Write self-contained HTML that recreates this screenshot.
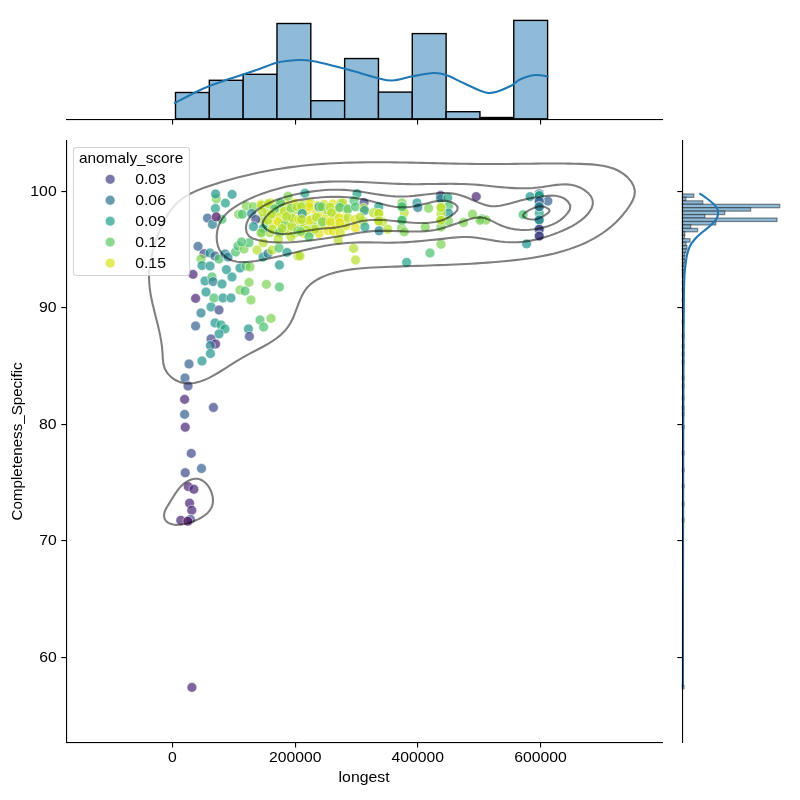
<!DOCTYPE html>
<html><head><meta charset="utf-8"><title>jointplot</title>
<style>html,body{margin:0;padding:0;background:#fff;} svg{display:block;will-change:transform;} text{font-family:"Liberation Sans", sans-serif;fill:#000;}</style>
</head><body>
<svg width="800" height="800" viewBox="0 0 800 800">
<rect x="0" y="0" width="800" height="800" fill="#fff"/>
<rect x="175.50" y="92.50" width="33.83" height="26.32" fill="#8fbbd9" stroke="#000" stroke-width="1.39"/>
<rect x="209.33" y="80.30" width="33.83" height="38.52" fill="#8fbbd9" stroke="#000" stroke-width="1.39"/>
<rect x="243.15" y="74.30" width="33.83" height="44.52" fill="#8fbbd9" stroke="#000" stroke-width="1.39"/>
<rect x="276.98" y="23.50" width="33.83" height="95.32" fill="#8fbbd9" stroke="#000" stroke-width="1.39"/>
<rect x="310.81" y="100.70" width="33.83" height="18.12" fill="#8fbbd9" stroke="#000" stroke-width="1.39"/>
<rect x="344.64" y="58.55" width="33.83" height="60.27" fill="#8fbbd9" stroke="#000" stroke-width="1.39"/>
<rect x="378.46" y="92.10" width="33.83" height="26.72" fill="#8fbbd9" stroke="#000" stroke-width="1.39"/>
<rect x="412.29" y="33.60" width="33.83" height="85.22" fill="#8fbbd9" stroke="#000" stroke-width="1.39"/>
<rect x="446.12" y="111.70" width="33.83" height="7.12" fill="#8fbbd9" stroke="#000" stroke-width="1.39"/>
<rect x="479.95" y="117.50" width="33.83" height="1.32" fill="#8fbbd9" stroke="#000" stroke-width="1.39"/>
<rect x="513.77" y="20.40" width="33.83" height="98.42" fill="#8fbbd9" stroke="#000" stroke-width="1.39"/>
<path d="M175.00,103.00 C178.33,101.25 189.17,95.38 195.00,92.50 C200.83,89.62 204.58,87.92 210.00,85.75 C215.42,83.58 221.88,81.42 227.50,79.50 C233.12,77.58 238.33,76.04 243.75,74.25 C249.17,72.46 254.38,70.71 260.00,68.75 C265.62,66.79 271.25,63.96 277.50,62.50 C283.75,61.04 291.88,60.29 297.50,60.00 C303.12,59.71 305.83,59.92 311.25,60.75 C316.67,61.58 324.38,63.67 330.00,65.00 C335.62,66.33 340.00,67.42 345.00,68.75 C350.00,70.08 354.58,71.46 360.00,73.00 C365.42,74.54 372.08,76.75 377.50,78.00 C382.92,79.25 386.67,80.79 392.50,80.50 C398.33,80.21 405.62,77.50 412.50,76.25 C419.38,75.00 428.12,73.21 433.75,73.00 C439.38,72.79 441.04,73.21 446.25,75.00 C451.46,76.79 457.92,80.75 465.00,83.75 C472.08,86.75 481.25,92.58 488.75,93.00 C496.25,93.42 504.79,88.50 510.00,86.25 C515.21,84.00 515.83,81.38 520.00,79.50 C524.17,77.62 530.42,75.50 535.00,75.00 C539.58,74.50 545.42,76.25 547.50,76.50" fill="none" stroke="#1f77b4" stroke-width="2.08" stroke-linecap="square"/>
<rect x="682.35" y="193.94" width="11.40" height="3.44" fill="#8fbbd9" stroke="#000" stroke-opacity="0.42" stroke-width="1.3"/>
<rect x="682.35" y="197.38" width="3.55" height="3.44" fill="#8fbbd9" stroke="#000" stroke-opacity="0.42" stroke-width="1.3"/>
<rect x="682.35" y="200.83" width="20.45" height="3.44" fill="#8fbbd9" stroke="#000" stroke-opacity="0.42" stroke-width="1.3"/>
<rect x="682.35" y="204.28" width="97.35" height="3.44" fill="#8fbbd9" stroke="#000" stroke-opacity="0.42" stroke-width="1.3"/>
<rect x="682.35" y="207.72" width="68.25" height="3.44" fill="#8fbbd9" stroke="#000" stroke-opacity="0.42" stroke-width="1.3"/>
<rect x="682.35" y="211.16" width="42.35" height="3.44" fill="#8fbbd9" stroke="#000" stroke-opacity="0.42" stroke-width="1.3"/>
<rect x="682.35" y="214.61" width="22.40" height="3.44" fill="#8fbbd9" stroke="#000" stroke-opacity="0.42" stroke-width="1.3"/>
<rect x="682.35" y="218.06" width="94.65" height="3.44" fill="#8fbbd9" stroke="#000" stroke-opacity="0.42" stroke-width="1.3"/>
<rect x="682.35" y="221.50" width="33.40" height="3.44" fill="#8fbbd9" stroke="#000" stroke-opacity="0.42" stroke-width="1.3"/>
<rect x="682.35" y="224.94" width="8.35" height="3.44" fill="#8fbbd9" stroke="#000" stroke-opacity="0.42" stroke-width="1.3"/>
<rect x="682.35" y="228.39" width="15.25" height="3.44" fill="#8fbbd9" stroke="#000" stroke-opacity="0.42" stroke-width="1.3"/>
<rect x="682.35" y="231.83" width="2.35" height="3.44" fill="#8fbbd9" stroke="#000" stroke-opacity="0.42" stroke-width="1.3"/>
<rect x="682.35" y="235.28" width="2.15" height="3.44" fill="#8fbbd9" stroke="#000" stroke-opacity="0.42" stroke-width="1.3"/>
<rect x="682.35" y="238.72" width="7.65" height="3.44" fill="#8fbbd9" stroke="#000" stroke-opacity="0.42" stroke-width="1.3"/>
<rect x="682.35" y="242.17" width="3.65" height="3.44" fill="#8fbbd9" stroke="#000" stroke-opacity="0.42" stroke-width="1.3"/>
<rect x="682.35" y="245.62" width="4.65" height="3.44" fill="#8fbbd9" stroke="#000" stroke-opacity="0.42" stroke-width="1.3"/>
<rect x="682.35" y="249.06" width="3.65" height="3.44" fill="#8fbbd9" stroke="#000" stroke-opacity="0.42" stroke-width="1.3"/>
<rect x="682.35" y="252.50" width="2.65" height="3.44" fill="#8fbbd9" stroke="#000" stroke-opacity="0.42" stroke-width="1.3"/>
<rect x="682.35" y="255.95" width="2.15" height="3.44" fill="#8fbbd9" stroke="#000" stroke-opacity="0.42" stroke-width="1.3"/>
<rect x="682.35" y="259.39" width="2.15" height="3.44" fill="#8fbbd9" stroke="#000" stroke-opacity="0.42" stroke-width="1.3"/>
<rect x="682.35" y="262.84" width="1.65" height="3.44" fill="#8fbbd9" stroke="#000" stroke-opacity="0.42" stroke-width="1.3"/>
<rect x="682.35" y="266.28" width="2.15" height="3.44" fill="#8fbbd9" stroke="#000" stroke-opacity="0.42" stroke-width="1.3"/>
<rect x="682.35" y="269.73" width="1.65" height="3.44" fill="#8fbbd9" stroke="#000" stroke-opacity="0.42" stroke-width="1.3"/>
<rect x="682.35" y="274.30" width="1.65" height="3.44" fill="#8fbbd9" stroke="#000" stroke-opacity="0.42" stroke-width="1.3"/>
<rect x="682.35" y="281.30" width="1.65" height="3.44" fill="#8fbbd9" stroke="#000" stroke-opacity="0.42" stroke-width="1.3"/>
<rect x="682.35" y="288.30" width="1.65" height="3.44" fill="#8fbbd9" stroke="#000" stroke-opacity="0.42" stroke-width="1.3"/>
<rect x="682.35" y="298.30" width="1.65" height="3.44" fill="#8fbbd9" stroke="#000" stroke-opacity="0.42" stroke-width="1.3"/>
<rect x="682.35" y="308.30" width="1.65" height="3.44" fill="#8fbbd9" stroke="#000" stroke-opacity="0.42" stroke-width="1.3"/>
<rect x="682.35" y="320.30" width="1.65" height="3.44" fill="#8fbbd9" stroke="#000" stroke-opacity="0.42" stroke-width="1.3"/>
<rect x="682.35" y="334.30" width="1.65" height="3.44" fill="#8fbbd9" stroke="#000" stroke-opacity="0.42" stroke-width="1.3"/>
<rect x="682.35" y="344.30" width="1.65" height="3.44" fill="#8fbbd9" stroke="#000" stroke-opacity="0.42" stroke-width="1.3"/>
<rect x="682.35" y="352.30" width="1.65" height="3.44" fill="#8fbbd9" stroke="#000" stroke-opacity="0.42" stroke-width="1.3"/>
<rect x="682.35" y="360.30" width="1.65" height="3.44" fill="#8fbbd9" stroke="#000" stroke-opacity="0.42" stroke-width="1.3"/>
<rect x="682.35" y="376.30" width="1.65" height="3.44" fill="#8fbbd9" stroke="#000" stroke-opacity="0.42" stroke-width="1.3"/>
<rect x="682.35" y="384.30" width="1.65" height="3.44" fill="#8fbbd9" stroke="#000" stroke-opacity="0.42" stroke-width="1.3"/>
<rect x="682.35" y="396.30" width="1.65" height="3.44" fill="#8fbbd9" stroke="#000" stroke-opacity="0.42" stroke-width="1.3"/>
<rect x="682.35" y="406.30" width="1.65" height="3.44" fill="#8fbbd9" stroke="#000" stroke-opacity="0.42" stroke-width="1.3"/>
<rect x="682.35" y="412.30" width="1.65" height="3.44" fill="#8fbbd9" stroke="#000" stroke-opacity="0.42" stroke-width="1.3"/>
<rect x="682.35" y="425.30" width="1.65" height="3.44" fill="#8fbbd9" stroke="#000" stroke-opacity="0.42" stroke-width="1.3"/>
<rect x="682.35" y="451.30" width="1.65" height="3.44" fill="#8fbbd9" stroke="#000" stroke-opacity="0.42" stroke-width="1.3"/>
<rect x="682.35" y="468.30" width="1.65" height="3.44" fill="#8fbbd9" stroke="#000" stroke-opacity="0.42" stroke-width="1.3"/>
<rect x="682.35" y="484.30" width="1.65" height="3.44" fill="#8fbbd9" stroke="#000" stroke-opacity="0.42" stroke-width="1.3"/>
<rect x="682.35" y="502.30" width="1.65" height="3.44" fill="#8fbbd9" stroke="#000" stroke-opacity="0.42" stroke-width="1.3"/>
<rect x="682.35" y="518.30" width="1.65" height="3.44" fill="#8fbbd9" stroke="#000" stroke-opacity="0.42" stroke-width="1.3"/>
<rect x="682.35" y="685.30" width="1.65" height="3.44" fill="#8fbbd9" stroke="#000" stroke-opacity="0.42" stroke-width="1.3"/>
<path d="M699.40,193.30 C700.54,194.08 704.07,196.38 706.25,198.00 C708.43,199.62 710.73,201.33 712.50,203.00 C714.27,204.67 715.97,206.33 716.90,208.00 C717.83,209.67 718.10,211.33 718.10,213.00 C718.10,214.67 717.73,216.33 716.90,218.00 C716.07,219.67 714.77,221.23 713.10,223.00 C711.43,224.77 708.98,226.83 706.90,228.60 C704.82,230.37 702.58,231.87 700.60,233.60 C698.62,235.33 696.77,236.93 695.00,239.00 C693.23,241.07 691.33,243.33 690.00,246.00 C688.67,248.67 687.75,251.83 687.00,255.00 C686.25,258.17 685.92,261.67 685.50,265.00 C685.08,268.33 684.75,270.83 684.50,275.00 C684.25,279.17 684.12,285.00 684.00,290.00 C683.88,295.00 683.88,295.00 683.80,305.00 C683.72,315.00 683.58,330.83 683.50,350.00 C683.42,369.17 683.37,391.67 683.30,420.00 C683.23,448.33 683.15,490.00 683.10,520.00 C683.05,550.00 683.03,572.17 683.00,600.00 C682.97,627.83 682.92,672.50 682.90,687.00" fill="none" stroke="#1f77b4" stroke-width="2.08"/>
<circle cx="260.95" cy="204.13" r="4.91" fill="#dfe318" fill-opacity="0.7" stroke="#fff" stroke-opacity="0.7" stroke-width="0.79"/>
<circle cx="267.66" cy="210.92" r="4.91" fill="#b5de2b" fill-opacity="0.7" stroke="#fff" stroke-opacity="0.7" stroke-width="0.79"/>
<circle cx="262.42" cy="219.23" r="4.91" fill="#9bd93c" fill-opacity="0.7" stroke="#fff" stroke-opacity="0.7" stroke-width="0.79"/>
<circle cx="265.04" cy="224.20" r="4.91" fill="#9bd93c" fill-opacity="0.7" stroke="#fff" stroke-opacity="0.7" stroke-width="0.79"/>
<circle cx="262.16" cy="232.15" r="4.91" fill="#9bd93c" fill-opacity="0.7" stroke="#fff" stroke-opacity="0.7" stroke-width="0.79"/>
<circle cx="270.56" cy="202.95" r="4.91" fill="#d2e21b" fill-opacity="0.7" stroke="#fff" stroke-opacity="0.7" stroke-width="0.79"/>
<circle cx="275.47" cy="211.07" r="4.91" fill="#b5de2b" fill-opacity="0.7" stroke="#fff" stroke-opacity="0.7" stroke-width="0.79"/>
<circle cx="270.69" cy="216.69" r="4.91" fill="#b5de2b" fill-opacity="0.7" stroke="#fff" stroke-opacity="0.7" stroke-width="0.79"/>
<circle cx="273.21" cy="223.59" r="4.91" fill="#dfe318" fill-opacity="0.7" stroke="#fff" stroke-opacity="0.7" stroke-width="0.79"/>
<circle cx="269.89" cy="232.66" r="4.91" fill="#9bd93c" fill-opacity="0.7" stroke="#fff" stroke-opacity="0.7" stroke-width="0.79"/>
<circle cx="278.86" cy="205.26" r="4.91" fill="#9bd93c" fill-opacity="0.7" stroke="#fff" stroke-opacity="0.7" stroke-width="0.79"/>
<circle cx="282.91" cy="211.23" r="4.91" fill="#d2e21b" fill-opacity="0.7" stroke="#fff" stroke-opacity="0.7" stroke-width="0.79"/>
<circle cx="279.52" cy="216.79" r="4.91" fill="#d2e21b" fill-opacity="0.7" stroke="#fff" stroke-opacity="0.7" stroke-width="0.79"/>
<circle cx="281.98" cy="224.27" r="4.91" fill="#9bd93c" fill-opacity="0.7" stroke="#fff" stroke-opacity="0.7" stroke-width="0.79"/>
<circle cx="279.12" cy="233.07" r="4.91" fill="#9bd93c" fill-opacity="0.7" stroke="#fff" stroke-opacity="0.7" stroke-width="0.79"/>
<circle cx="286.03" cy="203.66" r="4.91" fill="#dfe318" fill-opacity="0.7" stroke="#fff" stroke-opacity="0.7" stroke-width="0.79"/>
<circle cx="290.14" cy="210.72" r="4.91" fill="#d2e21b" fill-opacity="0.7" stroke="#fff" stroke-opacity="0.7" stroke-width="0.79"/>
<circle cx="287.62" cy="218.55" r="4.91" fill="#b5de2b" fill-opacity="0.7" stroke="#fff" stroke-opacity="0.7" stroke-width="0.79"/>
<circle cx="291.43" cy="226.47" r="4.91" fill="#d2e21b" fill-opacity="0.7" stroke="#fff" stroke-opacity="0.7" stroke-width="0.79"/>
<circle cx="286.79" cy="231.48" r="4.91" fill="#b5de2b" fill-opacity="0.7" stroke="#fff" stroke-opacity="0.7" stroke-width="0.79"/>
<circle cx="294.86" cy="203.13" r="4.91" fill="#dfe318" fill-opacity="0.7" stroke="#fff" stroke-opacity="0.7" stroke-width="0.79"/>
<circle cx="297.14" cy="209.69" r="4.91" fill="#9bd93c" fill-opacity="0.7" stroke="#fff" stroke-opacity="0.7" stroke-width="0.79"/>
<circle cx="292.35" cy="218.90" r="4.91" fill="#9bd93c" fill-opacity="0.7" stroke="#fff" stroke-opacity="0.7" stroke-width="0.79"/>
<circle cx="299.59" cy="223.56" r="4.91" fill="#9bd93c" fill-opacity="0.7" stroke="#fff" stroke-opacity="0.7" stroke-width="0.79"/>
<circle cx="295.08" cy="233.12" r="4.91" fill="#b5de2b" fill-opacity="0.7" stroke="#fff" stroke-opacity="0.7" stroke-width="0.79"/>
<circle cx="302.42" cy="204.78" r="4.91" fill="#9bd93c" fill-opacity="0.7" stroke="#fff" stroke-opacity="0.7" stroke-width="0.79"/>
<circle cx="306.87" cy="210.49" r="4.91" fill="#dfe318" fill-opacity="0.7" stroke="#fff" stroke-opacity="0.7" stroke-width="0.79"/>
<circle cx="302.02" cy="219.50" r="4.91" fill="#dfe318" fill-opacity="0.7" stroke="#fff" stroke-opacity="0.7" stroke-width="0.79"/>
<circle cx="304.03" cy="223.82" r="4.91" fill="#b5de2b" fill-opacity="0.7" stroke="#fff" stroke-opacity="0.7" stroke-width="0.79"/>
<circle cx="303.80" cy="233.41" r="4.91" fill="#dfe318" fill-opacity="0.7" stroke="#fff" stroke-opacity="0.7" stroke-width="0.79"/>
<circle cx="310.44" cy="202.97" r="4.91" fill="#b5de2b" fill-opacity="0.7" stroke="#fff" stroke-opacity="0.7" stroke-width="0.79"/>
<circle cx="315.92" cy="210.52" r="4.91" fill="#dfe318" fill-opacity="0.7" stroke="#fff" stroke-opacity="0.7" stroke-width="0.79"/>
<circle cx="311.83" cy="219.19" r="4.91" fill="#9bd93c" fill-opacity="0.7" stroke="#fff" stroke-opacity="0.7" stroke-width="0.79"/>
<circle cx="313.51" cy="226.11" r="4.91" fill="#9bd93c" fill-opacity="0.7" stroke="#fff" stroke-opacity="0.7" stroke-width="0.79"/>
<circle cx="310.58" cy="232.29" r="4.91" fill="#b5de2b" fill-opacity="0.7" stroke="#fff" stroke-opacity="0.7" stroke-width="0.79"/>
<circle cx="318.48" cy="205.32" r="4.91" fill="#dfe318" fill-opacity="0.7" stroke="#fff" stroke-opacity="0.7" stroke-width="0.79"/>
<circle cx="321.72" cy="211.66" r="4.91" fill="#d2e21b" fill-opacity="0.7" stroke="#fff" stroke-opacity="0.7" stroke-width="0.79"/>
<circle cx="319.75" cy="217.81" r="4.91" fill="#dfe318" fill-opacity="0.7" stroke="#fff" stroke-opacity="0.7" stroke-width="0.79"/>
<circle cx="322.08" cy="225.15" r="4.91" fill="#b5de2b" fill-opacity="0.7" stroke="#fff" stroke-opacity="0.7" stroke-width="0.79"/>
<circle cx="319.15" cy="233.46" r="4.91" fill="#dfe318" fill-opacity="0.7" stroke="#fff" stroke-opacity="0.7" stroke-width="0.79"/>
<circle cx="324.08" cy="204.35" r="4.91" fill="#d2e21b" fill-opacity="0.7" stroke="#fff" stroke-opacity="0.7" stroke-width="0.79"/>
<circle cx="328.24" cy="211.38" r="4.91" fill="#9bd93c" fill-opacity="0.7" stroke="#fff" stroke-opacity="0.7" stroke-width="0.79"/>
<circle cx="325.41" cy="219.25" r="4.91" fill="#dfe318" fill-opacity="0.7" stroke="#fff" stroke-opacity="0.7" stroke-width="0.79"/>
<circle cx="330.95" cy="223.57" r="4.91" fill="#b5de2b" fill-opacity="0.7" stroke="#fff" stroke-opacity="0.7" stroke-width="0.79"/>
<circle cx="327.82" cy="230.56" r="4.91" fill="#dfe318" fill-opacity="0.7" stroke="#fff" stroke-opacity="0.7" stroke-width="0.79"/>
<circle cx="333.00" cy="203.87" r="4.91" fill="#dfe318" fill-opacity="0.7" stroke="#fff" stroke-opacity="0.7" stroke-width="0.79"/>
<circle cx="336.71" cy="210.06" r="4.91" fill="#dfe318" fill-opacity="0.7" stroke="#fff" stroke-opacity="0.7" stroke-width="0.79"/>
<circle cx="335.38" cy="217.29" r="4.91" fill="#9bd93c" fill-opacity="0.7" stroke="#fff" stroke-opacity="0.7" stroke-width="0.79"/>
<circle cx="336.42" cy="225.94" r="4.91" fill="#d2e21b" fill-opacity="0.7" stroke="#fff" stroke-opacity="0.7" stroke-width="0.79"/>
<circle cx="333.24" cy="231.17" r="4.91" fill="#dfe318" fill-opacity="0.7" stroke="#fff" stroke-opacity="0.7" stroke-width="0.79"/>
<circle cx="340.95" cy="203.06" r="4.91" fill="#9bd93c" fill-opacity="0.7" stroke="#fff" stroke-opacity="0.7" stroke-width="0.79"/>
<circle cx="346.60" cy="209.79" r="4.91" fill="#dfe318" fill-opacity="0.7" stroke="#fff" stroke-opacity="0.7" stroke-width="0.79"/>
<circle cx="343.80" cy="218.52" r="4.91" fill="#d2e21b" fill-opacity="0.7" stroke="#fff" stroke-opacity="0.7" stroke-width="0.79"/>
<circle cx="345.75" cy="226.07" r="4.91" fill="#d2e21b" fill-opacity="0.7" stroke="#fff" stroke-opacity="0.7" stroke-width="0.79"/>
<circle cx="340.32" cy="232.73" r="4.91" fill="#d2e21b" fill-opacity="0.7" stroke="#fff" stroke-opacity="0.7" stroke-width="0.79"/>
<circle cx="216.25" cy="198.75" r="4.91" fill="#7ad151" fill-opacity="0.7" stroke="#fff" stroke-opacity="0.7" stroke-width="0.79"/>
<circle cx="215.60" cy="194.00" r="4.91" fill="#1f958b" fill-opacity="0.7" stroke="#fff" stroke-opacity="0.7" stroke-width="0.79"/>
<circle cx="232.10" cy="194.40" r="4.91" fill="#1f958b" fill-opacity="0.7" stroke="#fff" stroke-opacity="0.7" stroke-width="0.79"/>
<circle cx="225.40" cy="203.10" r="4.91" fill="#20a386" fill-opacity="0.7" stroke="#fff" stroke-opacity="0.7" stroke-width="0.79"/>
<circle cx="215.40" cy="208.50" r="4.91" fill="#20a386" fill-opacity="0.7" stroke="#fff" stroke-opacity="0.7" stroke-width="0.79"/>
<circle cx="207.50" cy="218.10" r="4.91" fill="#355f8d" fill-opacity="0.7" stroke="#fff" stroke-opacity="0.7" stroke-width="0.79"/>
<circle cx="221.90" cy="219.40" r="4.91" fill="#48c16e" fill-opacity="0.7" stroke="#fff" stroke-opacity="0.7" stroke-width="0.79"/>
<circle cx="212.50" cy="224.40" r="4.91" fill="#287d8e" fill-opacity="0.7" stroke="#fff" stroke-opacity="0.7" stroke-width="0.79"/>
<circle cx="216.25" cy="216.90" r="4.91" fill="#46085c" fill-opacity="0.7" stroke="#fff" stroke-opacity="0.7" stroke-width="0.79"/>
<circle cx="238.75" cy="214.40" r="4.91" fill="#7ad151" fill-opacity="0.7" stroke="#fff" stroke-opacity="0.7" stroke-width="0.79"/>
<circle cx="198.00" cy="246.40" r="4.91" fill="#355f8d" fill-opacity="0.7" stroke="#fff" stroke-opacity="0.7" stroke-width="0.79"/>
<circle cx="204.00" cy="253.60" r="4.91" fill="#3e4989" fill-opacity="0.7" stroke="#fff" stroke-opacity="0.7" stroke-width="0.79"/>
<circle cx="210.00" cy="253.00" r="4.91" fill="#1f958b" fill-opacity="0.7" stroke="#fff" stroke-opacity="0.7" stroke-width="0.79"/>
<circle cx="215.00" cy="256.00" r="4.91" fill="#355f8d" fill-opacity="0.7" stroke="#fff" stroke-opacity="0.7" stroke-width="0.79"/>
<circle cx="219.00" cy="259.00" r="4.91" fill="#48c16e" fill-opacity="0.7" stroke="#fff" stroke-opacity="0.7" stroke-width="0.79"/>
<circle cx="225.00" cy="254.00" r="4.91" fill="#25848e" fill-opacity="0.7" stroke="#fff" stroke-opacity="0.7" stroke-width="0.79"/>
<circle cx="228.00" cy="257.00" r="4.91" fill="#287d8e" fill-opacity="0.7" stroke="#fff" stroke-opacity="0.7" stroke-width="0.79"/>
<circle cx="201.00" cy="259.00" r="4.91" fill="#7ad151" fill-opacity="0.7" stroke="#fff" stroke-opacity="0.7" stroke-width="0.79"/>
<circle cx="202.00" cy="265.60" r="4.91" fill="#1f958b" fill-opacity="0.7" stroke="#fff" stroke-opacity="0.7" stroke-width="0.79"/>
<circle cx="210.00" cy="266.00" r="4.91" fill="#1f958b" fill-opacity="0.7" stroke="#fff" stroke-opacity="0.7" stroke-width="0.79"/>
<circle cx="193.00" cy="274.40" r="4.91" fill="#482475" fill-opacity="0.7" stroke="#fff" stroke-opacity="0.7" stroke-width="0.79"/>
<circle cx="205.00" cy="281.00" r="4.91" fill="#1f958b" fill-opacity="0.7" stroke="#fff" stroke-opacity="0.7" stroke-width="0.79"/>
<circle cx="212.00" cy="277.00" r="4.91" fill="#48c16e" fill-opacity="0.7" stroke="#fff" stroke-opacity="0.7" stroke-width="0.79"/>
<circle cx="213.00" cy="281.60" r="4.91" fill="#287d8e" fill-opacity="0.7" stroke="#fff" stroke-opacity="0.7" stroke-width="0.79"/>
<circle cx="222.00" cy="284.00" r="4.91" fill="#1f958b" fill-opacity="0.7" stroke="#fff" stroke-opacity="0.7" stroke-width="0.79"/>
<circle cx="226.40" cy="269.60" r="4.91" fill="#1f958b" fill-opacity="0.7" stroke="#fff" stroke-opacity="0.7" stroke-width="0.79"/>
<circle cx="232.00" cy="277.00" r="4.91" fill="#1f958b" fill-opacity="0.7" stroke="#fff" stroke-opacity="0.7" stroke-width="0.79"/>
<circle cx="235.60" cy="252.00" r="4.91" fill="#48c16e" fill-opacity="0.7" stroke="#fff" stroke-opacity="0.7" stroke-width="0.79"/>
<circle cx="238.00" cy="246.00" r="4.91" fill="#48c16e" fill-opacity="0.7" stroke="#fff" stroke-opacity="0.7" stroke-width="0.79"/>
<circle cx="244.00" cy="249.00" r="4.91" fill="#7ad151" fill-opacity="0.7" stroke="#fff" stroke-opacity="0.7" stroke-width="0.79"/>
<circle cx="240.00" cy="268.00" r="4.91" fill="#1f958b" fill-opacity="0.7" stroke="#fff" stroke-opacity="0.7" stroke-width="0.79"/>
<circle cx="246.00" cy="266.00" r="4.91" fill="#48c16e" fill-opacity="0.7" stroke="#fff" stroke-opacity="0.7" stroke-width="0.79"/>
<circle cx="250.00" cy="267.00" r="4.91" fill="#7ad151" fill-opacity="0.7" stroke="#fff" stroke-opacity="0.7" stroke-width="0.79"/>
<circle cx="249.00" cy="282.40" r="4.91" fill="#7ad151" fill-opacity="0.7" stroke="#fff" stroke-opacity="0.7" stroke-width="0.79"/>
<circle cx="240.00" cy="290.00" r="4.91" fill="#7ad151" fill-opacity="0.7" stroke="#fff" stroke-opacity="0.7" stroke-width="0.79"/>
<circle cx="245.00" cy="291.00" r="4.91" fill="#48c16e" fill-opacity="0.7" stroke="#fff" stroke-opacity="0.7" stroke-width="0.79"/>
<circle cx="251.00" cy="300.00" r="4.91" fill="#7ad151" fill-opacity="0.7" stroke="#fff" stroke-opacity="0.7" stroke-width="0.79"/>
<circle cx="266.40" cy="284.40" r="4.91" fill="#7ad151" fill-opacity="0.7" stroke="#fff" stroke-opacity="0.7" stroke-width="0.79"/>
<circle cx="279.40" cy="287.00" r="4.91" fill="#48c16e" fill-opacity="0.7" stroke="#fff" stroke-opacity="0.7" stroke-width="0.79"/>
<circle cx="279.40" cy="265.00" r="4.91" fill="#1f958b" fill-opacity="0.7" stroke="#fff" stroke-opacity="0.7" stroke-width="0.79"/>
<circle cx="257.00" cy="250.00" r="4.91" fill="#b5de2b" fill-opacity="0.7" stroke="#fff" stroke-opacity="0.7" stroke-width="0.79"/>
<circle cx="263.00" cy="257.00" r="4.91" fill="#1f958b" fill-opacity="0.7" stroke="#fff" stroke-opacity="0.7" stroke-width="0.79"/>
<circle cx="268.00" cy="253.60" r="4.91" fill="#287d8e" fill-opacity="0.7" stroke="#fff" stroke-opacity="0.7" stroke-width="0.79"/>
<circle cx="272.00" cy="250.00" r="4.91" fill="#b5de2b" fill-opacity="0.7" stroke="#fff" stroke-opacity="0.7" stroke-width="0.79"/>
<circle cx="279.00" cy="248.00" r="4.91" fill="#48c16e" fill-opacity="0.7" stroke="#fff" stroke-opacity="0.7" stroke-width="0.79"/>
<circle cx="287.00" cy="252.40" r="4.91" fill="#1f958b" fill-opacity="0.7" stroke="#fff" stroke-opacity="0.7" stroke-width="0.79"/>
<circle cx="298.00" cy="256.00" r="4.91" fill="#b5de2b" fill-opacity="0.7" stroke="#fff" stroke-opacity="0.7" stroke-width="0.79"/>
<circle cx="206.00" cy="292.00" r="4.91" fill="#1f958b" fill-opacity="0.7" stroke="#fff" stroke-opacity="0.7" stroke-width="0.79"/>
<circle cx="214.00" cy="298.00" r="4.91" fill="#48c16e" fill-opacity="0.7" stroke="#fff" stroke-opacity="0.7" stroke-width="0.79"/>
<circle cx="223.00" cy="298.00" r="4.91" fill="#1f958b" fill-opacity="0.7" stroke="#fff" stroke-opacity="0.7" stroke-width="0.79"/>
<circle cx="231.00" cy="298.00" r="4.91" fill="#1f958b" fill-opacity="0.7" stroke="#fff" stroke-opacity="0.7" stroke-width="0.79"/>
<circle cx="195.60" cy="298.40" r="4.91" fill="#482475" fill-opacity="0.7" stroke="#fff" stroke-opacity="0.7" stroke-width="0.79"/>
<circle cx="211.00" cy="307.00" r="4.91" fill="#1f958b" fill-opacity="0.7" stroke="#fff" stroke-opacity="0.7" stroke-width="0.79"/>
<circle cx="219.00" cy="310.00" r="4.91" fill="#3e4989" fill-opacity="0.7" stroke="#fff" stroke-opacity="0.7" stroke-width="0.79"/>
<circle cx="201.00" cy="313.00" r="4.91" fill="#287d8e" fill-opacity="0.7" stroke="#fff" stroke-opacity="0.7" stroke-width="0.79"/>
<circle cx="195.60" cy="326.00" r="4.91" fill="#355f8d" fill-opacity="0.7" stroke="#fff" stroke-opacity="0.7" stroke-width="0.79"/>
<circle cx="215.00" cy="323.00" r="4.91" fill="#1f958b" fill-opacity="0.7" stroke="#fff" stroke-opacity="0.7" stroke-width="0.79"/>
<circle cx="221.00" cy="325.00" r="4.91" fill="#20a386" fill-opacity="0.7" stroke="#fff" stroke-opacity="0.7" stroke-width="0.79"/>
<circle cx="225.00" cy="329.00" r="4.91" fill="#20a386" fill-opacity="0.7" stroke="#fff" stroke-opacity="0.7" stroke-width="0.79"/>
<circle cx="219.00" cy="334.00" r="4.91" fill="#1f958b" fill-opacity="0.7" stroke="#fff" stroke-opacity="0.7" stroke-width="0.79"/>
<circle cx="211.00" cy="339.00" r="4.91" fill="#3e4989" fill-opacity="0.7" stroke="#fff" stroke-opacity="0.7" stroke-width="0.79"/>
<circle cx="215.60" cy="344.00" r="4.91" fill="#482475" fill-opacity="0.7" stroke="#fff" stroke-opacity="0.7" stroke-width="0.79"/>
<circle cx="210.40" cy="345.60" r="4.91" fill="#287d8e" fill-opacity="0.7" stroke="#fff" stroke-opacity="0.7" stroke-width="0.79"/>
<circle cx="210.40" cy="353.60" r="4.91" fill="#1f958b" fill-opacity="0.7" stroke="#fff" stroke-opacity="0.7" stroke-width="0.79"/>
<circle cx="202.00" cy="361.00" r="4.91" fill="#1f958b" fill-opacity="0.7" stroke="#fff" stroke-opacity="0.7" stroke-width="0.79"/>
<circle cx="189.00" cy="364.00" r="4.91" fill="#355f8d" fill-opacity="0.7" stroke="#fff" stroke-opacity="0.7" stroke-width="0.79"/>
<circle cx="185.00" cy="378.00" r="4.91" fill="#355f8d" fill-opacity="0.7" stroke="#fff" stroke-opacity="0.7" stroke-width="0.79"/>
<circle cx="188.00" cy="386.00" r="4.91" fill="#3e4989" fill-opacity="0.7" stroke="#fff" stroke-opacity="0.7" stroke-width="0.79"/>
<circle cx="184.60" cy="399.40" r="4.91" fill="#482475" fill-opacity="0.7" stroke="#fff" stroke-opacity="0.7" stroke-width="0.79"/>
<circle cx="260.00" cy="320.00" r="4.91" fill="#48c16e" fill-opacity="0.7" stroke="#fff" stroke-opacity="0.7" stroke-width="0.79"/>
<circle cx="271.00" cy="318.40" r="4.91" fill="#7ad151" fill-opacity="0.7" stroke="#fff" stroke-opacity="0.7" stroke-width="0.79"/>
<circle cx="263.60" cy="327.00" r="4.91" fill="#48c16e" fill-opacity="0.7" stroke="#fff" stroke-opacity="0.7" stroke-width="0.79"/>
<circle cx="248.40" cy="329.00" r="4.91" fill="#1f958b" fill-opacity="0.7" stroke="#fff" stroke-opacity="0.7" stroke-width="0.79"/>
<circle cx="249.40" cy="336.40" r="4.91" fill="#3e4989" fill-opacity="0.7" stroke="#fff" stroke-opacity="0.7" stroke-width="0.79"/>
<circle cx="213.40" cy="407.50" r="4.91" fill="#3e4989" fill-opacity="0.7" stroke="#fff" stroke-opacity="0.7" stroke-width="0.79"/>
<circle cx="184.60" cy="414.40" r="4.91" fill="#355f8d" fill-opacity="0.7" stroke="#fff" stroke-opacity="0.7" stroke-width="0.79"/>
<circle cx="185.25" cy="427.25" r="4.91" fill="#482475" fill-opacity="0.7" stroke="#fff" stroke-opacity="0.7" stroke-width="0.79"/>
<circle cx="191.25" cy="453.40" r="4.91" fill="#3e4989" fill-opacity="0.7" stroke="#fff" stroke-opacity="0.7" stroke-width="0.79"/>
<circle cx="201.50" cy="468.50" r="4.91" fill="#355f8d" fill-opacity="0.7" stroke="#fff" stroke-opacity="0.7" stroke-width="0.79"/>
<circle cx="185.25" cy="472.75" r="4.91" fill="#3e4989" fill-opacity="0.7" stroke="#fff" stroke-opacity="0.7" stroke-width="0.79"/>
<circle cx="188.25" cy="486.60" r="4.91" fill="#482475" fill-opacity="0.7" stroke="#fff" stroke-opacity="0.7" stroke-width="0.79"/>
<circle cx="193.90" cy="489.25" r="4.91" fill="#482475" fill-opacity="0.7" stroke="#fff" stroke-opacity="0.7" stroke-width="0.79"/>
<circle cx="189.60" cy="503.25" r="4.91" fill="#482475" fill-opacity="0.7" stroke="#fff" stroke-opacity="0.7" stroke-width="0.79"/>
<circle cx="191.75" cy="510.25" r="4.91" fill="#482475" fill-opacity="0.7" stroke="#fff" stroke-opacity="0.7" stroke-width="0.79"/>
<circle cx="190.40" cy="519.40" r="4.91" fill="#3e4989" fill-opacity="0.7" stroke="#fff" stroke-opacity="0.7" stroke-width="0.79"/>
<circle cx="180.80" cy="520.30" r="4.91" fill="#482475" fill-opacity="0.7" stroke="#fff" stroke-opacity="0.7" stroke-width="0.79"/>
<circle cx="187.80" cy="521.20" r="4.91" fill="#46085c" fill-opacity="0.7" stroke="#fff" stroke-opacity="0.7" stroke-width="0.79"/>
<circle cx="191.90" cy="687.40" r="4.91" fill="#482475" fill-opacity="0.7" stroke="#fff" stroke-opacity="0.7" stroke-width="0.79"/>
<circle cx="353.60" cy="248.40" r="4.91" fill="#b5de2b" fill-opacity="0.7" stroke="#fff" stroke-opacity="0.7" stroke-width="0.79"/>
<circle cx="355.60" cy="260.00" r="4.91" fill="#b5de2b" fill-opacity="0.7" stroke="#fff" stroke-opacity="0.7" stroke-width="0.79"/>
<circle cx="300.00" cy="256.00" r="4.91" fill="#b5de2b" fill-opacity="0.7" stroke="#fff" stroke-opacity="0.7" stroke-width="0.79"/>
<circle cx="406.60" cy="262.40" r="4.91" fill="#20a386" fill-opacity="0.7" stroke="#fff" stroke-opacity="0.7" stroke-width="0.79"/>
<circle cx="430.00" cy="253.00" r="4.91" fill="#48c16e" fill-opacity="0.7" stroke="#fff" stroke-opacity="0.7" stroke-width="0.79"/>
<circle cx="482.00" cy="219.00" r="4.91" fill="#48c16e" fill-opacity="0.7" stroke="#fff" stroke-opacity="0.7" stroke-width="0.79"/>
<circle cx="486.00" cy="220.00" r="4.91" fill="#7ad151" fill-opacity="0.7" stroke="#fff" stroke-opacity="0.7" stroke-width="0.79"/>
<circle cx="530.10" cy="196.60" r="4.91" fill="#1f958b" fill-opacity="0.7" stroke="#fff" stroke-opacity="0.7" stroke-width="0.79"/>
<circle cx="523.10" cy="214.60" r="4.91" fill="#48c16e" fill-opacity="0.7" stroke="#fff" stroke-opacity="0.7" stroke-width="0.79"/>
<circle cx="526.60" cy="243.90" r="4.91" fill="#1f958b" fill-opacity="0.7" stroke="#fff" stroke-opacity="0.7" stroke-width="0.79"/>
<circle cx="288.00" cy="196.25" r="4.91" fill="#7ad151" fill-opacity="0.7" stroke="#fff" stroke-opacity="0.7" stroke-width="0.79"/>
<circle cx="246.40" cy="206.00" r="4.91" fill="#7ad151" fill-opacity="0.7" stroke="#fff" stroke-opacity="0.7" stroke-width="0.79"/>
<circle cx="253.10" cy="206.75" r="4.91" fill="#7ad151" fill-opacity="0.7" stroke="#fff" stroke-opacity="0.7" stroke-width="0.79"/>
<circle cx="261.40" cy="205.25" r="4.91" fill="#b5de2b" fill-opacity="0.7" stroke="#fff" stroke-opacity="0.7" stroke-width="0.79"/>
<circle cx="268.50" cy="203.75" r="4.91" fill="#b5de2b" fill-opacity="0.7" stroke="#fff" stroke-opacity="0.7" stroke-width="0.79"/>
<circle cx="280.50" cy="203.00" r="4.91" fill="#48c16e" fill-opacity="0.7" stroke="#fff" stroke-opacity="0.7" stroke-width="0.79"/>
<circle cx="274.50" cy="209.00" r="4.91" fill="#48c16e" fill-opacity="0.7" stroke="#fff" stroke-opacity="0.7" stroke-width="0.79"/>
<circle cx="262.50" cy="212.00" r="4.91" fill="#b5de2b" fill-opacity="0.7" stroke="#fff" stroke-opacity="0.7" stroke-width="0.79"/>
<circle cx="242.25" cy="214.25" r="4.91" fill="#48c16e" fill-opacity="0.7" stroke="#fff" stroke-opacity="0.7" stroke-width="0.79"/>
<circle cx="251.60" cy="213.50" r="4.91" fill="#25848e" fill-opacity="0.7" stroke="#fff" stroke-opacity="0.7" stroke-width="0.79"/>
<circle cx="255.75" cy="219.50" r="4.91" fill="#3e4989" fill-opacity="0.7" stroke="#fff" stroke-opacity="0.7" stroke-width="0.79"/>
<circle cx="253.50" cy="226.60" r="4.91" fill="#1f958b" fill-opacity="0.7" stroke="#fff" stroke-opacity="0.7" stroke-width="0.79"/>
<circle cx="263.25" cy="228.50" r="4.91" fill="#20a386" fill-opacity="0.7" stroke="#fff" stroke-opacity="0.7" stroke-width="0.79"/>
<circle cx="267.75" cy="220.25" r="4.91" fill="#b5de2b" fill-opacity="0.7" stroke="#fff" stroke-opacity="0.7" stroke-width="0.79"/>
<circle cx="278.25" cy="221.75" r="4.91" fill="#dfe318" fill-opacity="0.7" stroke="#fff" stroke-opacity="0.7" stroke-width="0.79"/>
<circle cx="285.00" cy="224.75" r="4.91" fill="#7ad151" fill-opacity="0.7" stroke="#fff" stroke-opacity="0.7" stroke-width="0.79"/>
<circle cx="291.75" cy="226.25" r="4.91" fill="#b5de2b" fill-opacity="0.7" stroke="#fff" stroke-opacity="0.7" stroke-width="0.79"/>
<circle cx="284.25" cy="211.25" r="4.91" fill="#b5de2b" fill-opacity="0.7" stroke="#fff" stroke-opacity="0.7" stroke-width="0.79"/>
<circle cx="291.00" cy="208.25" r="4.91" fill="#7ad151" fill-opacity="0.7" stroke="#fff" stroke-opacity="0.7" stroke-width="0.79"/>
<circle cx="297.00" cy="206.75" r="4.91" fill="#b5de2b" fill-opacity="0.7" stroke="#fff" stroke-opacity="0.7" stroke-width="0.79"/>
<circle cx="292.50" cy="218.00" r="4.91" fill="#b5de2b" fill-opacity="0.7" stroke="#fff" stroke-opacity="0.7" stroke-width="0.79"/>
<circle cx="298.50" cy="219.50" r="4.91" fill="#dfe318" fill-opacity="0.7" stroke="#fff" stroke-opacity="0.7" stroke-width="0.79"/>
<circle cx="272.25" cy="229.25" r="4.91" fill="#b5de2b" fill-opacity="0.7" stroke="#fff" stroke-opacity="0.7" stroke-width="0.79"/>
<circle cx="279.75" cy="232.25" r="4.91" fill="#48c16e" fill-opacity="0.7" stroke="#fff" stroke-opacity="0.7" stroke-width="0.79"/>
<circle cx="278.25" cy="239.00" r="4.91" fill="#b5de2b" fill-opacity="0.7" stroke="#fff" stroke-opacity="0.7" stroke-width="0.79"/>
<circle cx="291.00" cy="236.75" r="4.91" fill="#b5de2b" fill-opacity="0.7" stroke="#fff" stroke-opacity="0.7" stroke-width="0.79"/>
<circle cx="297.75" cy="230.75" r="4.91" fill="#7ad151" fill-opacity="0.7" stroke="#fff" stroke-opacity="0.7" stroke-width="0.79"/>
<circle cx="263.25" cy="242.75" r="4.91" fill="#b5de2b" fill-opacity="0.7" stroke="#fff" stroke-opacity="0.7" stroke-width="0.79"/>
<circle cx="249.00" cy="242.75" r="4.91" fill="#48c16e" fill-opacity="0.7" stroke="#fff" stroke-opacity="0.7" stroke-width="0.79"/>
<circle cx="241.50" cy="242.00" r="4.91" fill="#48c16e" fill-opacity="0.7" stroke="#fff" stroke-opacity="0.7" stroke-width="0.79"/>
<circle cx="271.50" cy="214.25" r="4.91" fill="#b5de2b" fill-opacity="0.7" stroke="#fff" stroke-opacity="0.7" stroke-width="0.79"/>
<circle cx="286.50" cy="216.50" r="4.91" fill="#b5de2b" fill-opacity="0.7" stroke="#fff" stroke-opacity="0.7" stroke-width="0.79"/>
<circle cx="282.00" cy="228.50" r="4.91" fill="#b5de2b" fill-opacity="0.7" stroke="#fff" stroke-opacity="0.7" stroke-width="0.79"/>
<circle cx="261.00" cy="233.00" r="4.91" fill="#7ad151" fill-opacity="0.7" stroke="#fff" stroke-opacity="0.7" stroke-width="0.79"/>
<circle cx="304.90" cy="193.25" r="4.91" fill="#20a386" fill-opacity="0.7" stroke="#fff" stroke-opacity="0.7" stroke-width="0.79"/>
<circle cx="357.00" cy="193.60" r="4.91" fill="#20a386" fill-opacity="0.7" stroke="#fff" stroke-opacity="0.7" stroke-width="0.79"/>
<circle cx="309.00" cy="203.75" r="4.91" fill="#dfe318" fill-opacity="0.7" stroke="#fff" stroke-opacity="0.7" stroke-width="0.79"/>
<circle cx="309.00" cy="206.75" r="4.91" fill="#dfe318" fill-opacity="0.7" stroke="#fff" stroke-opacity="0.7" stroke-width="0.79"/>
<circle cx="301.50" cy="206.75" r="4.91" fill="#b5de2b" fill-opacity="0.7" stroke="#fff" stroke-opacity="0.7" stroke-width="0.79"/>
<circle cx="319.10" cy="206.75" r="4.91" fill="#20a386" fill-opacity="0.7" stroke="#fff" stroke-opacity="0.7" stroke-width="0.79"/>
<circle cx="321.75" cy="206.75" r="4.91" fill="#7ad151" fill-opacity="0.7" stroke="#fff" stroke-opacity="0.7" stroke-width="0.79"/>
<circle cx="330.00" cy="207.10" r="4.91" fill="#b5de2b" fill-opacity="0.7" stroke="#fff" stroke-opacity="0.7" stroke-width="0.79"/>
<circle cx="331.50" cy="212.75" r="4.91" fill="#b5de2b" fill-opacity="0.7" stroke="#fff" stroke-opacity="0.7" stroke-width="0.79"/>
<circle cx="342.75" cy="203.00" r="4.91" fill="#b5de2b" fill-opacity="0.7" stroke="#fff" stroke-opacity="0.7" stroke-width="0.79"/>
<circle cx="339.75" cy="207.50" r="4.91" fill="#48c16e" fill-opacity="0.7" stroke="#fff" stroke-opacity="0.7" stroke-width="0.79"/>
<circle cx="348.00" cy="209.00" r="4.91" fill="#48c16e" fill-opacity="0.7" stroke="#fff" stroke-opacity="0.7" stroke-width="0.79"/>
<circle cx="354.00" cy="200.75" r="4.91" fill="#48c16e" fill-opacity="0.7" stroke="#fff" stroke-opacity="0.7" stroke-width="0.79"/>
<circle cx="355.50" cy="206.75" r="4.91" fill="#48c16e" fill-opacity="0.7" stroke="#fff" stroke-opacity="0.7" stroke-width="0.79"/>
<circle cx="302.25" cy="213.50" r="4.91" fill="#1f958b" fill-opacity="0.7" stroke="#fff" stroke-opacity="0.7" stroke-width="0.79"/>
<circle cx="309.40" cy="220.25" r="4.91" fill="#dfe318" fill-opacity="0.7" stroke="#fff" stroke-opacity="0.7" stroke-width="0.79"/>
<circle cx="301.50" cy="219.50" r="4.91" fill="#b5de2b" fill-opacity="0.7" stroke="#fff" stroke-opacity="0.7" stroke-width="0.79"/>
<circle cx="316.50" cy="217.25" r="4.91" fill="#b5de2b" fill-opacity="0.7" stroke="#fff" stroke-opacity="0.7" stroke-width="0.79"/>
<circle cx="322.50" cy="221.75" r="4.91" fill="#7ad151" fill-opacity="0.7" stroke="#fff" stroke-opacity="0.7" stroke-width="0.79"/>
<circle cx="330.40" cy="221.75" r="4.91" fill="#dfe318" fill-opacity="0.7" stroke="#fff" stroke-opacity="0.7" stroke-width="0.79"/>
<circle cx="339.00" cy="218.00" r="4.91" fill="#dfe318" fill-opacity="0.7" stroke="#fff" stroke-opacity="0.7" stroke-width="0.79"/>
<circle cx="339.75" cy="222.50" r="4.91" fill="#dfe318" fill-opacity="0.7" stroke="#fff" stroke-opacity="0.7" stroke-width="0.79"/>
<circle cx="348.00" cy="218.00" r="4.91" fill="#b5de2b" fill-opacity="0.7" stroke="#fff" stroke-opacity="0.7" stroke-width="0.79"/>
<circle cx="355.10" cy="219.50" r="4.91" fill="#dfe318" fill-opacity="0.7" stroke="#fff" stroke-opacity="0.7" stroke-width="0.79"/>
<circle cx="355.50" cy="227.75" r="4.91" fill="#dfe318" fill-opacity="0.7" stroke="#fff" stroke-opacity="0.7" stroke-width="0.79"/>
<circle cx="315.00" cy="229.25" r="4.91" fill="#b5de2b" fill-opacity="0.7" stroke="#fff" stroke-opacity="0.7" stroke-width="0.79"/>
<circle cx="306.75" cy="230.00" r="4.91" fill="#b5de2b" fill-opacity="0.7" stroke="#fff" stroke-opacity="0.7" stroke-width="0.79"/>
<circle cx="300.75" cy="231.50" r="4.91" fill="#7ad151" fill-opacity="0.7" stroke="#fff" stroke-opacity="0.7" stroke-width="0.79"/>
<circle cx="309.00" cy="236.75" r="4.91" fill="#48c16e" fill-opacity="0.7" stroke="#fff" stroke-opacity="0.7" stroke-width="0.79"/>
<circle cx="338.25" cy="240.10" r="4.91" fill="#b5de2b" fill-opacity="0.7" stroke="#fff" stroke-opacity="0.7" stroke-width="0.79"/>
<circle cx="364.10" cy="202.60" r="4.91" fill="#3e4989" fill-opacity="0.7" stroke="#fff" stroke-opacity="0.7" stroke-width="0.79"/>
<circle cx="363.75" cy="208.25" r="4.91" fill="#b5de2b" fill-opacity="0.7" stroke="#fff" stroke-opacity="0.7" stroke-width="0.79"/>
<circle cx="364.50" cy="210.50" r="4.91" fill="#1f958b" fill-opacity="0.7" stroke="#fff" stroke-opacity="0.7" stroke-width="0.79"/>
<circle cx="363.00" cy="221.00" r="4.91" fill="#b5de2b" fill-opacity="0.7" stroke="#fff" stroke-opacity="0.7" stroke-width="0.79"/>
<circle cx="364.90" cy="227.00" r="4.91" fill="#20a386" fill-opacity="0.7" stroke="#fff" stroke-opacity="0.7" stroke-width="0.79"/>
<circle cx="378.75" cy="206.75" r="4.91" fill="#20a386" fill-opacity="0.7" stroke="#fff" stroke-opacity="0.7" stroke-width="0.79"/>
<circle cx="373.50" cy="212.75" r="4.91" fill="#b5de2b" fill-opacity="0.7" stroke="#fff" stroke-opacity="0.7" stroke-width="0.79"/>
<circle cx="378.75" cy="213.50" r="4.91" fill="#dfe318" fill-opacity="0.7" stroke="#fff" stroke-opacity="0.7" stroke-width="0.79"/>
<circle cx="378.75" cy="221.00" r="4.91" fill="#dfe318" fill-opacity="0.7" stroke="#fff" stroke-opacity="0.7" stroke-width="0.79"/>
<circle cx="382.50" cy="221.75" r="4.91" fill="#b5de2b" fill-opacity="0.7" stroke="#fff" stroke-opacity="0.7" stroke-width="0.79"/>
<circle cx="379.10" cy="230.75" r="4.91" fill="#25848e" fill-opacity="0.7" stroke="#fff" stroke-opacity="0.7" stroke-width="0.79"/>
<circle cx="387.75" cy="229.25" r="4.91" fill="#b5de2b" fill-opacity="0.7" stroke="#fff" stroke-opacity="0.7" stroke-width="0.79"/>
<circle cx="402.00" cy="203.00" r="4.91" fill="#7ad151" fill-opacity="0.7" stroke="#fff" stroke-opacity="0.7" stroke-width="0.79"/>
<circle cx="402.00" cy="206.75" r="4.91" fill="#48c16e" fill-opacity="0.7" stroke="#fff" stroke-opacity="0.7" stroke-width="0.79"/>
<circle cx="404.25" cy="212.75" r="4.91" fill="#b5de2b" fill-opacity="0.7" stroke="#fff" stroke-opacity="0.7" stroke-width="0.79"/>
<circle cx="402.00" cy="220.25" r="4.91" fill="#48c16e" fill-opacity="0.7" stroke="#fff" stroke-opacity="0.7" stroke-width="0.79"/>
<circle cx="401.60" cy="228.10" r="4.91" fill="#7ad151" fill-opacity="0.7" stroke="#fff" stroke-opacity="0.7" stroke-width="0.79"/>
<circle cx="404.25" cy="231.90" r="4.91" fill="#7ad151" fill-opacity="0.7" stroke="#fff" stroke-opacity="0.7" stroke-width="0.79"/>
<circle cx="417.00" cy="203.00" r="4.91" fill="#1f958b" fill-opacity="0.7" stroke="#fff" stroke-opacity="0.7" stroke-width="0.79"/>
<circle cx="417.75" cy="207.50" r="4.91" fill="#287d8e" fill-opacity="0.7" stroke="#fff" stroke-opacity="0.7" stroke-width="0.79"/>
<circle cx="360.00" cy="217.25" r="4.91" fill="#b5de2b" fill-opacity="0.7" stroke="#fff" stroke-opacity="0.7" stroke-width="0.79"/>
<circle cx="428.60" cy="208.25" r="4.91" fill="#7ad151" fill-opacity="0.7" stroke="#fff" stroke-opacity="0.7" stroke-width="0.79"/>
<circle cx="440.60" cy="195.50" r="4.91" fill="#3e4989" fill-opacity="0.7" stroke="#fff" stroke-opacity="0.7" stroke-width="0.79"/>
<circle cx="440.60" cy="198.50" r="4.91" fill="#25848e" fill-opacity="0.7" stroke="#fff" stroke-opacity="0.7" stroke-width="0.79"/>
<circle cx="447.75" cy="197.75" r="4.91" fill="#20a386" fill-opacity="0.7" stroke="#fff" stroke-opacity="0.7" stroke-width="0.79"/>
<circle cx="448.50" cy="206.00" r="4.91" fill="#48c16e" fill-opacity="0.7" stroke="#fff" stroke-opacity="0.7" stroke-width="0.79"/>
<circle cx="441.00" cy="207.50" r="4.91" fill="#b5de2b" fill-opacity="0.7" stroke="#fff" stroke-opacity="0.7" stroke-width="0.79"/>
<circle cx="448.50" cy="213.10" r="4.91" fill="#1f958b" fill-opacity="0.7" stroke="#fff" stroke-opacity="0.7" stroke-width="0.79"/>
<circle cx="441.00" cy="213.50" r="4.91" fill="#b5de2b" fill-opacity="0.7" stroke="#fff" stroke-opacity="0.7" stroke-width="0.79"/>
<circle cx="441.00" cy="220.25" r="4.91" fill="#b5de2b" fill-opacity="0.7" stroke="#fff" stroke-opacity="0.7" stroke-width="0.79"/>
<circle cx="448.50" cy="221.00" r="4.91" fill="#7ad151" fill-opacity="0.7" stroke="#fff" stroke-opacity="0.7" stroke-width="0.79"/>
<circle cx="441.00" cy="227.00" r="4.91" fill="#7ad151" fill-opacity="0.7" stroke="#fff" stroke-opacity="0.7" stroke-width="0.79"/>
<circle cx="425.25" cy="227.00" r="4.91" fill="#7ad151" fill-opacity="0.7" stroke="#fff" stroke-opacity="0.7" stroke-width="0.79"/>
<circle cx="476.25" cy="196.60" r="4.91" fill="#482475" fill-opacity="0.7" stroke="#fff" stroke-opacity="0.7" stroke-width="0.79"/>
<circle cx="472.50" cy="214.25" r="4.91" fill="#7ad151" fill-opacity="0.7" stroke="#fff" stroke-opacity="0.7" stroke-width="0.79"/>
<circle cx="463.50" cy="222.50" r="4.91" fill="#7ad151" fill-opacity="0.7" stroke="#fff" stroke-opacity="0.7" stroke-width="0.79"/>
<circle cx="480.00" cy="220.25" r="4.91" fill="#7ad151" fill-opacity="0.7" stroke="#fff" stroke-opacity="0.7" stroke-width="0.79"/>
<circle cx="441.00" cy="244.25" r="4.91" fill="#7ad151" fill-opacity="0.7" stroke="#fff" stroke-opacity="0.7" stroke-width="0.79"/>
<circle cx="539.25" cy="193.80" r="4.91" fill="#3e4989" fill-opacity="0.7" stroke="#fff" stroke-opacity="0.7" stroke-width="0.79"/>
<circle cx="539.25" cy="195.50" r="4.91" fill="#20a386" fill-opacity="0.7" stroke="#fff" stroke-opacity="0.7" stroke-width="0.79"/>
<circle cx="539.25" cy="195.50" r="4.91" fill="#20a386" fill-opacity="0.7" stroke="#fff" stroke-opacity="0.7" stroke-width="0.79"/>
<circle cx="547.90" cy="201.10" r="4.91" fill="#355f8d" fill-opacity="0.7" stroke="#fff" stroke-opacity="0.7" stroke-width="0.79"/>
<circle cx="539.25" cy="201.10" r="4.91" fill="#355f8d" fill-opacity="0.7" stroke="#fff" stroke-opacity="0.7" stroke-width="0.79"/>
<circle cx="539.25" cy="201.10" r="4.91" fill="#355f8d" fill-opacity="0.7" stroke="#fff" stroke-opacity="0.7" stroke-width="0.79"/>
<circle cx="539.25" cy="213.10" r="4.91" fill="#20a386" fill-opacity="0.7" stroke="#fff" stroke-opacity="0.7" stroke-width="0.79"/>
<circle cx="539.25" cy="206.75" r="4.91" fill="#355f8d" fill-opacity="0.7" stroke="#fff" stroke-opacity="0.7" stroke-width="0.79"/>
<circle cx="539.25" cy="206.75" r="4.91" fill="#287d8e" fill-opacity="0.7" stroke="#fff" stroke-opacity="0.7" stroke-width="0.79"/>
<circle cx="539.25" cy="219.90" r="4.91" fill="#25848e" fill-opacity="0.7" stroke="#fff" stroke-opacity="0.7" stroke-width="0.79"/>
<circle cx="539.25" cy="219.90" r="4.91" fill="#25848e" fill-opacity="0.7" stroke="#fff" stroke-opacity="0.7" stroke-width="0.79"/>
<circle cx="539.25" cy="229.25" r="4.91" fill="#3e4989" fill-opacity="0.7" stroke="#fff" stroke-opacity="0.7" stroke-width="0.79"/>
<circle cx="539.25" cy="229.25" r="4.91" fill="#3e4989" fill-opacity="0.7" stroke="#fff" stroke-opacity="0.7" stroke-width="0.79"/>
<circle cx="539.25" cy="236.00" r="4.91" fill="#482475" fill-opacity="0.7" stroke="#fff" stroke-opacity="0.7" stroke-width="0.79"/>
<circle cx="539.25" cy="236.00" r="4.91" fill="#3e4989" fill-opacity="0.7" stroke="#fff" stroke-opacity="0.7" stroke-width="0.79"/>
<circle cx="402.00" cy="206.75" r="4.91" fill="#48c16e" fill-opacity="0.7" stroke="#fff" stroke-opacity="0.7" stroke-width="0.79"/>
<circle cx="402.00" cy="220.25" r="4.91" fill="#48c16e" fill-opacity="0.7" stroke="#fff" stroke-opacity="0.7" stroke-width="0.79"/>
<circle cx="441.00" cy="207.50" r="4.91" fill="#b5de2b" fill-opacity="0.7" stroke="#fff" stroke-opacity="0.7" stroke-width="0.79"/>
<circle cx="441.00" cy="220.25" r="4.91" fill="#b5de2b" fill-opacity="0.7" stroke="#fff" stroke-opacity="0.7" stroke-width="0.79"/>
<circle cx="378.75" cy="213.50" r="4.91" fill="#b5de2b" fill-opacity="0.7" stroke="#fff" stroke-opacity="0.7" stroke-width="0.79"/>
<circle cx="378.75" cy="221.00" r="4.91" fill="#b5de2b" fill-opacity="0.7" stroke="#fff" stroke-opacity="0.7" stroke-width="0.79"/>
<path d="M160.18,229.56 L162.41,224.55 L164.82,219.69 L167.46,215.04 L170.37,210.64 L173.60,206.54 L177.19,202.79 L181.18,199.43 L185.54,196.43 L190.20,193.75 L195.11,191.35 L200.22,189.19 L205.48,187.22 L210.82,185.40 L216.19,183.68 L221.55,182.04 L226.90,180.48 L232.25,178.98 L237.59,177.56 L242.93,176.21 L248.26,174.93 L253.59,173.72 L258.92,172.57 L264.26,171.50 L269.60,170.49 L274.94,169.55 L280.29,168.68 L285.65,167.87 L291.02,167.12 L296.40,166.44 L301.80,165.82 L307.20,165.26 L312.61,164.76 L318.03,164.31 L323.46,163.91 L328.90,163.56 L334.35,163.26 L339.80,163.00 L345.26,162.79 L350.72,162.61 L356.19,162.48 L361.67,162.37 L367.15,162.30 L372.63,162.26 L378.11,162.25 L383.60,162.26 L389.09,162.29 L394.58,162.35 L400.07,162.42 L405.56,162.51 L411.05,162.61 L416.54,162.72 L422.02,162.84 L427.50,162.97 L432.99,163.10 L438.46,163.23 L443.94,163.36 L449.40,163.49 L454.87,163.61 L460.32,163.72 L465.77,163.82 L471.22,163.91 L476.65,163.98 L482.08,164.03 L487.50,164.06 L492.91,164.07 L498.31,164.06 L503.70,164.02 L509.09,163.97 L514.48,163.90 L519.87,163.82 L525.26,163.75 L530.67,163.67 L536.09,163.60 L541.52,163.54 L546.97,163.50 L552.45,163.49 L557.95,163.49 L563.48,163.53 L569.04,163.60 L574.63,163.72 L580.27,163.88 L585.95,164.09 L591.64,164.41 L597.28,164.93 L602.84,165.73 L608.25,166.91 L613.47,168.56 L618.44,170.76 L623.11,173.61 L627.39,177.16 L631.01,181.32 L633.62,185.93 L634.87,190.82 L634.45,195.85 L632.49,200.86 L629.62,205.74 L626.39,210.36 L622.96,214.72 L619.34,218.81 L615.53,222.65 L611.55,226.25 L607.41,229.61 L603.10,232.75 L598.65,235.66 L594.07,238.38 L589.35,240.89 L584.51,243.21 L579.57,245.35 L574.52,247.31 L569.38,249.12 L564.15,250.77 L558.85,252.27 L553.49,253.64 L548.07,254.88 L542.61,256.00 L537.10,257.01 L531.57,257.92 L526.02,258.73 L520.46,259.47 L514.89,260.13 L509.34,260.72 L503.80,261.26 L498.29,261.76 L492.81,262.21 L487.36,262.62 L481.93,263.00 L476.53,263.35 L471.15,263.67 L465.78,263.96 L460.43,264.23 L455.08,264.48 L449.74,264.71 L444.40,264.93 L439.06,265.13 L433.72,265.32 L428.37,265.51 L423.00,265.68 L417.62,265.86 L412.23,266.03 L406.81,266.21 L401.36,266.40 L395.89,266.59 L390.38,266.79 L384.84,267.01 L379.26,267.24 L373.64,267.50 L368.01,267.81 L362.38,268.21 L356.78,268.72 L351.22,269.37 L345.74,270.20 L340.34,271.23 L335.06,272.50 L329.91,274.03 L324.92,275.86 L320.10,278.01 L315.52,280.55 L311.30,283.57 L307.52,287.16 L304.30,291.42 L301.62,296.31 L299.32,301.63 L297.23,307.17 L295.18,312.71 L293.00,318.05 L290.52,322.97 L287.65,327.37 L284.41,331.30 L280.83,334.83 L276.95,338.02 L272.81,340.94 L268.43,343.66 L263.85,346.25 L259.11,348.77 L254.25,351.29 L249.29,353.88 L244.27,356.61 L239.23,359.54 L234.19,362.67 L229.14,365.89 L224.11,369.12 L219.09,372.25 L214.08,375.19 L209.10,377.84 L204.15,380.09 L199.23,381.86 L194.34,383.05 L189.50,383.55 L184.70,383.28 L179.95,382.12 L175.35,380.05 L171.13,377.11 L167.56,373.38 L164.90,368.93 L163.39,363.83 L162.80,358.28 L162.50,352.55 L161.99,346.89 L161.22,341.31 L160.23,335.81 L159.08,330.37 L157.82,324.99 L156.49,319.66 L155.13,314.36 L153.81,309.09 L152.55,303.83 L151.42,298.58 L150.46,293.32 L149.71,288.05 L149.23,282.75 L149.06,277.42 L149.23,272.05 L149.72,266.66 L150.51,261.26 L151.57,255.86 L152.88,250.49 L154.43,245.16 L156.17,239.88 L158.10,234.68 Z" fill="none" stroke="#000" stroke-opacity="0.5" stroke-width="2.08" stroke-linejoin="round"/>
<path d="M240.27,203.69 L244.36,201.47 L248.51,199.40 L252.72,197.45 L256.99,195.64 L261.30,193.96 L265.66,192.40 L270.07,190.96 L274.51,189.64 L278.99,188.43 L283.51,187.34 L288.06,186.35 L292.63,185.46 L297.22,184.67 L301.84,183.98 L306.47,183.38 L311.11,182.87 L315.77,182.44 L320.43,182.10 L325.09,181.84 L329.75,181.65 L334.41,181.53 L339.06,181.48 L343.70,181.49 L348.33,181.56 L352.95,181.69 L357.57,181.85 L362.18,182.04 L366.78,182.27 L371.38,182.51 L375.98,182.76 L380.59,183.01 L385.19,183.25 L389.80,183.49 L394.41,183.70 L399.03,183.88 L403.66,184.02 L408.30,184.12 L412.95,184.17 L417.61,184.17 L422.28,184.14 L426.96,184.08 L431.63,184.01 L436.31,183.94 L440.99,183.88 L445.66,183.84 L450.32,183.82 L454.98,183.85 L459.62,183.92 L464.25,184.06 L468.87,184.27 L473.47,184.55 L478.05,184.91 L482.62,185.32 L487.18,185.76 L491.73,186.22 L496.28,186.68 L500.83,187.11 L505.39,187.50 L509.95,187.84 L514.53,188.10 L519.12,188.26 L523.73,188.31 L528.37,188.22 L533.02,187.99 L537.71,187.58 L542.43,186.99 L547.18,186.27 L551.93,185.53 L556.68,184.90 L561.41,184.49 L566.11,184.41 L570.75,184.80 L575.32,185.76 L579.81,187.42 L584.16,189.86 L588.04,192.94 L591.01,196.45 L592.63,200.14 L592.85,203.90 L591.85,207.64 L589.84,211.31 L587.04,214.84 L583.63,218.15 L579.84,221.19 L575.82,223.91 L571.63,226.34 L567.33,228.53 L562.95,230.53 L558.54,232.36 L554.12,234.06 L549.70,235.63 L545.27,237.06 L540.84,238.33 L536.40,239.44 L531.94,240.38 L527.47,241.15 L522.97,241.73 L518.46,242.11 L513.93,242.29 L509.36,242.26 L504.77,242.01 L500.15,241.54 L495.50,240.87 L490.84,240.09 L486.16,239.26 L481.49,238.46 L476.82,237.76 L472.16,237.23 L467.53,236.94 L462.93,236.95 L458.35,237.20 L453.78,237.61 L449.20,238.09 L444.61,238.60 L440.00,239.10 L435.38,239.60 L430.75,240.09 L426.10,240.56 L421.46,241.00 L416.81,241.41 L412.16,241.77 L407.51,242.09 L402.86,242.35 L398.23,242.54 L393.60,242.66 L388.98,242.70 L384.37,242.67 L379.76,242.58 L375.16,242.48 L370.55,242.39 L365.92,242.34 L361.27,242.36 L356.60,242.48 L351.90,242.71 L347.20,243.04 L342.51,243.46 L337.83,243.98 L333.17,244.59 L328.56,245.29 L324.00,246.07 L319.47,246.92 L314.98,247.83 L310.51,248.80 L306.06,249.80 L301.61,250.85 L297.17,251.91 L292.72,252.99 L288.25,254.08 L283.76,255.16 L279.24,256.22 L274.67,257.26 L270.07,258.27 L265.40,259.23 L260.68,260.14 L255.89,260.97 L251.08,261.65 L246.30,262.07 L241.61,262.12 L237.08,261.69 L232.74,260.69 L228.67,259.00 L224.97,256.58 L221.81,253.46 L219.38,249.70 L217.74,245.41 L216.85,240.76 L216.68,235.93 L217.21,231.07 L218.39,226.37 L220.19,222.00 L222.58,218.07 L225.47,214.57 L228.76,211.44 L232.39,208.62 L236.25,206.05 Z" fill="none" stroke="#000" stroke-opacity="0.5" stroke-width="2.08" stroke-linejoin="round"/>
<path d="M245.91,228.19 L246.49,223.76 L248.21,219.66 L250.86,215.89 L254.24,212.46 L258.16,209.37 L262.40,206.61 L266.77,204.19 L271.11,202.09 L275.43,200.29 L279.74,198.73 L284.06,197.37 L288.41,196.18 L292.82,195.09 L297.29,194.09 L301.83,193.17 L306.43,192.34 L311.07,191.60 L315.74,190.98 L320.45,190.46 L325.17,190.08 L329.90,189.82 L334.64,189.70 L339.36,189.73 L344.08,189.91 L348.76,190.25 L353.42,190.74 L358.07,191.33 L362.69,192.01 L367.31,192.73 L371.92,193.47 L376.52,194.19 L381.13,194.88 L385.74,195.48 L390.37,195.98 L395.00,196.34 L399.66,196.54 L404.33,196.53 L409.04,196.31 L413.76,195.90 L418.49,195.37 L423.23,194.79 L427.97,194.21 L432.70,193.68 L437.41,193.28 L442.10,193.05 L446.75,193.07 L451.36,193.39 L455.93,194.07 L460.44,195.17 L464.89,196.71 L469.30,198.53 L473.67,200.47 L478.03,202.37 L482.38,204.07 L486.75,205.39 L491.14,206.17 L495.57,206.26 L500.03,205.75 L504.51,204.82 L509.00,203.66 L513.49,202.44 L517.98,201.25 L522.48,200.10 L527.02,199.02 L531.61,198.04 L536.25,197.18 L540.98,196.47 L545.80,195.93 L550.68,195.64 L555.49,195.81 L560.05,196.66 L564.21,198.43 L567.80,201.34 L570.25,205.36 L569.88,209.65 L567.22,213.64 L563.93,217.12 L560.28,220.08 L556.34,222.57 L552.14,224.63 L547.75,226.30 L543.22,227.62 L538.59,228.62 L533.92,229.34 L529.25,229.80 L524.58,229.97 L519.94,229.84 L515.33,229.37 L510.77,228.56 L506.27,227.38 L501.84,225.81 L497.49,223.84 L493.21,221.66 L488.94,219.63 L484.62,218.08 L480.21,217.36 L475.67,217.70 L471.07,218.78 L466.50,220.18 L461.97,221.69 L457.48,223.27 L453.00,224.85 L448.53,226.36 L444.05,227.75 L439.54,228.96 L435.00,229.92 L430.42,230.63 L425.80,231.11 L421.16,231.39 L416.49,231.53 L411.80,231.53 L407.10,231.44 L402.40,231.30 L397.68,231.13 L392.98,230.96 L388.28,230.84 L383.59,230.78 L378.92,230.84 L374.28,231.03 L369.67,231.40 L365.08,231.92 L360.50,232.58 L355.93,233.33 L351.36,234.13 L346.76,234.95 L342.14,235.76 L337.49,236.54 L332.82,237.29 L328.14,238.00 L323.45,238.68 L318.77,239.33 L314.10,239.94 L309.46,240.50 L304.84,241.03 L300.25,241.51 L295.67,241.92 L291.11,242.24 L286.53,242.45 L281.92,242.52 L277.27,242.43 L272.57,242.16 L267.79,241.69 L262.93,240.99 L257.97,240.03 L253.15,238.65 L249.16,236.37 L246.69,232.74 Z" fill="none" stroke="#000" stroke-opacity="0.5" stroke-width="2.08" stroke-linejoin="round"/>
<path d="M262.66,224.58 L263.16,220.86 L265.64,217.05 L269.09,213.50 L272.70,210.45 L276.38,207.90 L280.15,205.78 L284.03,204.05 L288.02,202.63 L292.13,201.49 L296.33,200.56 L300.60,199.80 L304.90,199.16 L309.20,198.59 L313.51,198.09 L317.83,197.66 L322.14,197.31 L326.45,197.05 L330.76,196.88 L335.07,196.81 L339.37,196.86 L343.67,197.02 L347.96,197.30 L352.25,197.71 L356.53,198.26 L360.80,198.95 L365.06,199.80 L369.31,200.79 L373.55,201.86 L377.78,202.98 L382.01,204.08 L386.22,205.11 L390.43,206.01 L394.63,206.72 L398.82,207.20 L403.01,207.39 L407.19,207.23 L411.38,206.74 L415.60,205.99 L419.87,205.06 L424.20,204.00 L428.62,202.90 L433.14,201.84 L437.72,201.00 L442.30,200.60 L446.81,200.87 L451.18,202.03 L455.17,204.19 L457.64,207.04 L457.35,210.15 L454.72,213.16 L451.22,215.79 L447.50,217.95 L443.61,219.66 L439.57,220.98 L435.39,221.93 L431.11,222.57 L426.75,222.93 L422.33,223.06 L417.87,222.99 L413.40,222.76 L408.95,222.42 L404.53,222.00 L400.17,221.55 L395.85,221.10 L391.58,220.67 L387.33,220.31 L383.11,220.03 L378.91,219.87 L374.71,219.86 L370.52,220.04 L366.31,220.43 L362.08,221.06 L357.83,221.96 L353.54,223.16 L349.22,224.49 L344.89,225.73 L340.56,226.68 L336.23,227.36 L331.93,227.85 L327.65,228.22 L323.41,228.57 L319.22,228.97 L315.08,229.48 L310.96,230.10 L306.82,230.80 L302.60,231.55 L298.26,232.31 L293.79,233.03 L289.25,233.60 L284.73,233.92 L280.28,233.87 L275.97,233.35 L271.89,232.25 L268.11,230.46 L264.72,227.87 Z" fill="none" stroke="#000" stroke-opacity="0.5" stroke-width="2.08" stroke-linejoin="round"/>
<path d="M523.16,215.50 L523.44,214.56 L524.19,213.57 L525.32,212.57 L526.75,211.57 L528.37,210.60 L530.09,209.68 L531.82,208.84 L533.48,208.09 L535.08,207.45 L536.62,206.94 L538.12,206.57 L539.60,206.36 L541.09,206.31 L542.58,206.45 L544.11,206.79 L545.68,207.34 L547.23,208.09 L548.53,208.99 L549.36,209.99 L549.51,211.04 L548.94,212.10 L547.84,213.14 L546.42,214.16 L544.90,215.13 L543.42,216.03 L541.98,216.86 L540.57,217.60 L539.17,218.24 L537.76,218.76 L536.33,219.17 L534.85,219.44 L533.30,219.56 L531.67,219.53 L529.97,219.33 L528.27,218.99 L526.68,218.50 L525.27,217.90 L524.16,217.19 L523.42,216.38 Z" fill="none" stroke="#000" stroke-opacity="0.5" stroke-width="2.08" stroke-linejoin="round"/>
<path d="M195.03,478.68 L197.74,478.79 L200.31,479.48 L202.73,480.71 L204.95,482.39 L206.96,484.45 L208.73,486.83 L210.22,489.44 L211.42,492.22 L212.30,495.09 L212.83,497.99 L212.98,500.84 L212.73,503.57 L212.06,506.12 L211.00,508.48 L209.59,510.67 L207.86,512.68 L205.85,514.52 L203.61,516.21 L201.16,517.73 L198.56,519.10 L195.83,520.33 L193.01,521.42 L190.15,522.38 L187.28,523.20 L184.44,523.91 L181.64,524.47 L178.86,524.81 L176.07,524.87 L173.25,524.56 L170.49,523.85 L168.02,522.68 L166.03,521.05 L164.70,518.93 L164.08,516.49 L164.15,513.88 L164.86,511.24 L166.05,508.61 L167.56,505.99 L169.22,503.38 L170.85,500.81 L172.41,498.27 L173.94,495.80 L175.48,493.40 L177.05,491.09 L178.71,488.90 L180.48,486.84 L182.41,484.92 L184.52,483.17 L186.86,481.60 L189.46,480.24 L192.23,479.21 Z" fill="none" stroke="#000" stroke-opacity="0.5" stroke-width="2.08" stroke-linejoin="round"/>
<rect x="66.00" y="119.00" width="597.00" height="1.10" fill="#000" />
<rect x="172.00" y="119.00" width="1.10" height="5.50" fill="#000" />
<rect x="295.00" y="119.00" width="1.10" height="5.50" fill="#000" />
<rect x="417.00" y="119.00" width="1.10" height="5.50" fill="#000" />
<rect x="540.00" y="119.00" width="1.10" height="5.50" fill="#000" />
<rect x="66.00" y="140.00" width="1.10" height="603.00" fill="#000" />
<rect x="66.00" y="742.00" width="597.00" height="1.10" fill="#000" />
<rect x="61.30" y="191.00" width="5.50" height="1.10" fill="#000" />
<rect x="61.30" y="307.00" width="5.50" height="1.10" fill="#000" />
<rect x="61.30" y="424.00" width="5.50" height="1.10" fill="#000" />
<rect x="61.30" y="540.00" width="5.50" height="1.10" fill="#000" />
<rect x="61.30" y="657.00" width="5.50" height="1.10" fill="#000" />
<rect x="172.00" y="742.00" width="1.10" height="5.50" fill="#000" />
<rect x="295.00" y="742.00" width="1.10" height="5.50" fill="#000" />
<rect x="417.00" y="742.00" width="1.10" height="5.50" fill="#000" />
<rect x="540.00" y="742.00" width="1.10" height="5.50" fill="#000" />
<rect x="682.00" y="140.00" width="1.10" height="603.00" fill="#000" />
<rect x="677.30" y="191.00" width="5.50" height="1.10" fill="#000" />
<rect x="677.30" y="307.00" width="5.50" height="1.10" fill="#000" />
<rect x="677.30" y="424.00" width="5.50" height="1.10" fill="#000" />
<rect x="677.30" y="540.00" width="5.50" height="1.10" fill="#000" />
<rect x="677.30" y="657.00" width="5.50" height="1.10" fill="#000" />
<text x="168.12" y="762.00" font-size="14.4" textLength="8.75" lengthAdjust="spacingAndGlyphs" text-anchor="start" >0</text>
<text x="268.92" y="762.00" font-size="14.4" textLength="52.50" lengthAdjust="spacingAndGlyphs" text-anchor="start" >200000</text>
<text x="391.59" y="762.00" font-size="14.4" textLength="52.50" lengthAdjust="spacingAndGlyphs" text-anchor="start" >400000</text>
<text x="514.20" y="762.00" font-size="14.4" textLength="52.62" lengthAdjust="spacingAndGlyphs" text-anchor="start" >600000</text>
<text x="39.20" y="661.56" font-size="14.4" textLength="17.50" lengthAdjust="spacingAndGlyphs" text-anchor="start" >60</text>
<text x="39.20" y="545.10" font-size="14.4" textLength="17.50" lengthAdjust="spacingAndGlyphs" text-anchor="start" >70</text>
<text x="39.07" y="428.60" font-size="14.4" textLength="17.62" lengthAdjust="spacingAndGlyphs" text-anchor="start" >80</text>
<text x="39.07" y="312.10" font-size="14.4" textLength="17.62" lengthAdjust="spacingAndGlyphs" text-anchor="start" >90</text>
<text x="30.32" y="195.60" font-size="14.4" textLength="26.38" lengthAdjust="spacingAndGlyphs" text-anchor="start" >100</text>
<text x="338.55" y="781.70" font-size="14.4" textLength="51.12" lengthAdjust="spacingAndGlyphs" text-anchor="start" >longest</text>
<text transform="translate(21.6,441.4) rotate(-90)" x="0" y="0" font-size="14.4" textLength="158" lengthAdjust="spacingAndGlyphs" text-anchor="middle">Completeness_Specific</text>
<rect x="73.5" y="147.5" width="116" height="128" rx="2.8" ry="2.8" fill="#ffffff" fill-opacity="0.8" stroke="#cccccc" stroke-opacity="0.8" stroke-width="1.1"/>
<text x="78.92" y="162.90" font-size="14.4" textLength="104.38" lengthAdjust="spacingAndGlyphs" text-anchor="start" >anomaly_score</text>
<circle cx="110.18" cy="179.30" r="4.91" fill="#423f85" fill-opacity="0.7" stroke="#fff" stroke-opacity="0.7" stroke-width="0.8"/>
<text x="135.18" y="183.90" font-size="14.4" textLength="30.62" lengthAdjust="spacingAndGlyphs" text-anchor="start" >0.03</text>
<circle cx="110.18" cy="200.24" r="4.91" fill="#2c718e" fill-opacity="0.7" stroke="#fff" stroke-opacity="0.7" stroke-width="0.8"/>
<text x="135.18" y="204.84" font-size="14.4" textLength="30.75" lengthAdjust="spacingAndGlyphs" text-anchor="start" >0.06</text>
<circle cx="110.18" cy="221.19" r="4.91" fill="#1f9f88" fill-opacity="0.7" stroke="#fff" stroke-opacity="0.7" stroke-width="0.8"/>
<text x="135.18" y="225.79" font-size="14.4" textLength="30.75" lengthAdjust="spacingAndGlyphs" text-anchor="start" >0.09</text>
<circle cx="110.18" cy="242.13" r="4.91" fill="#5cc863" fill-opacity="0.7" stroke="#fff" stroke-opacity="0.7" stroke-width="0.8"/>
<text x="135.18" y="246.73" font-size="14.4" textLength="30.75" lengthAdjust="spacingAndGlyphs" text-anchor="start" >0.12</text>
<circle cx="110.18" cy="263.08" r="4.91" fill="#d5e21a" fill-opacity="0.7" stroke="#fff" stroke-opacity="0.7" stroke-width="0.8"/>
<text x="135.18" y="267.68" font-size="14.4" textLength="30.75" lengthAdjust="spacingAndGlyphs" text-anchor="start" >0.15</text>
</svg></body></html>
